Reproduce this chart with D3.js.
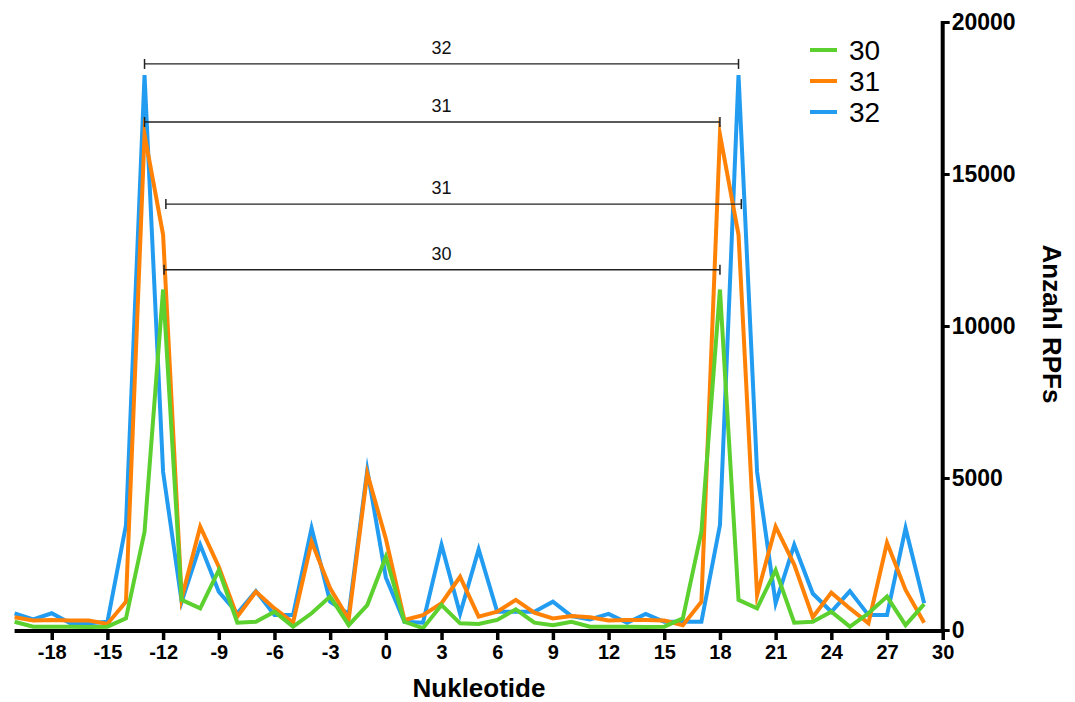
<!DOCTYPE html>
<html>
<head>
<meta charset="utf-8">
<script src="https://cdn.jsdelivr.net/npm/d3@7"></script>
<style>
  html, body { margin: 0; padding: 0; background: #fff; }
  svg { display: block; font-family: Arial, "Liberation Sans", Helvetica, sans-serif; }
</style>
</head>
<body>
<svg id="chart" width="1075" height="702"></svg>
<script>
// Nucleotide positions (x) and read counts per read length
const positions = d3.range(-20, 30);
const series30 = [270, 110, 110, 110, 100, 110, 380, 3230, 11200, 990,
                  710, 1970, 240, 270, 600, 110, 550, 1100, 160, 820,
                  2410, 270, 60, 820, 220, 200, 330, 680, 240, 160,
                  270, 110, 110, 110, 100, 110, 380, 3230, 11200, 990,
                  710, 1970, 240, 270, 600, 110, 550, 1100, 160, 850];
const series31 = [420, 310, 330, 310, 310, 200, 930, 16300, 13000, 1050,
                  3400, 2080, 440, 1260, 710, 240, 2900, 1370, 350, 5150,
                  3000, 330, 490, 880, 1750, 440, 600, 990, 570, 380,
                  460, 420, 310, 330, 330, 310, 160, 930, 16300, 13000,
                  1150, 3400, 2150, 420, 1230, 710, 220, 2870, 1320, 240];
const series32 = [550, 350, 550, 220, 220, 270, 3450, 18250, 5200, 930,
                  2800, 1260, 550, 1280, 490, 490, 3350, 930, 530, 5260,
                  1730, 270, 240, 2800, 530, 2650, 600, 600, 600, 930,
                  460, 350, 530, 240, 530, 270, 270, 270, 3450, 18250,
                  5200, 880, 2800, 1200, 600, 1280, 490, 490, 3350, 880];

const seriesNames = ["30", "31", "32"];
const seriesColors = ["#5bd02f", "#ff8206", "#229cf0"];

const xTicks = [-18, -15, -12, -9, -6, -3, 0, 3, 6, 9, 12, 15, 18, 21, 24, 27, 30];
const yTicks = [0, 5000, 10000, 15000, 20000];

// Distance brackets between the two peaks
const bracketLabels = ["32", "31", "31", "30"];
const bracketFrom   = [-13, -13, -11.85, -11.95];
const bracketTo     = [19, 18, 19.15, 18];
const bracketLevel  = [18620, 16710, 14010, 11850];
const bracketLabelX = [3, 3, 3, 3];

const svg = d3.select("#chart");

const x = d3.scaleLinear().domain([-20, 30]).range([14.6, 942.7]);
const y = d3.scaleLinear().domain([0, 20000]).range([630, 22]);

// Lines (blue first, green on top)
const line = d3.line().x((d, i) => x(positions[i])).y(d => y(d));
const allSeries = [series30, series31, series32];
[2, 1, 0].forEach(k => {
  svg.append("path")
    .datum(allSeries[k])
    .attr("d", line)
    .attr("fill", "none")
    .attr("stroke", seriesColors[k])
    .attr("stroke-width", 4)
    .attr("stroke-linejoin", "miter")
    .attr("stroke-miterlimit", 10);
});

// Brackets
const br = svg.append("g").attr("class", "brackets");
bracketLabels.forEach((lab, i) => {
  const yy = y(bracketLevel[i]);
  const x0 = x(bracketFrom[i]), x1 = x(bracketTo[i]);
  br.append("line").attr("x1", x0).attr("x2", x1).attr("y1", yy).attr("y2", yy)
    .attr("stroke", "#222").attr("stroke-width", 1.3);
  [x0, x1].forEach(xx => br.append("line")
    .attr("x1", xx).attr("x2", xx).attr("y1", yy - 5).attr("y2", yy + 5)
    .attr("stroke", "#222").attr("stroke-width", 1.5));
  br.append("text").attr("x", x(bracketLabelX[i])).attr("y", yy - 10)
    .attr("text-anchor", "middle").attr("font-size", 18).attr("fill", "#111")
    .text(lab);
});

// X axis (plain hyphen for negative labels)
const xAxis = svg.append("g").attr("transform", "translate(0,631)")
  .call(d3.axisBottom(x).tickValues(xTicks).tickFormat(d => String(d))
    .tickSize(9).tickPadding(5).tickSizeOuter(0));
xAxis.select(".domain").attr("stroke", "#000").attr("stroke-width", 4)
  .attr("d", `M${x(-20)},0H${x(30) + 2}`);
xAxis.selectAll(".tick line").attr("stroke", "#000").attr("stroke-width", 3.5);
xAxis.selectAll(".tick text").attr("font-size", 20).attr("font-weight", "bold")
  .attr("fill", "#000").attr("font-family", "Arial, 'Liberation Sans', sans-serif");

// Y axis on the right
const yAxis = svg.append("g").attr("transform", `translate(${x(30)},0)`)
  .call(d3.axisRight(y).tickValues(yTicks).tickFormat(d => String(d))
    .tickSize(7).tickPadding(2).tickSizeOuter(0));
yAxis.select(".domain").attr("stroke", "#000").attr("stroke-width", 4)
  .attr("d", `M0,${y(20000) - 1}V${y(0) + 3}`);
yAxis.selectAll(".tick line").attr("stroke", "#000").attr("stroke-width", 3);
yAxis.selectAll(".tick text").attr("font-size", 23).attr("font-weight", "bold")
  .attr("fill", "#000").attr("font-family", "Arial, 'Liberation Sans', sans-serif");

// Axis titles
svg.append("text").attr("x", 479).attr("y", 697).attr("text-anchor", "middle")
  .attr("font-size", 26).attr("font-weight", "bold").attr("fill", "#000")
  .text("Nukleotide");
svg.append("text").attr("transform", "translate(1043,324) rotate(90)")
  .attr("text-anchor", "middle").attr("font-size", 26).attr("font-weight", "bold").attr("fill", "#000")
  .text("Anzahl RPFs");

// Legend
const legend = svg.append("g").attr("class", "legend");
seriesNames.forEach((name, i) => {
  const ly = 50 + i * 31;
  legend.append("line").attr("x1", 810).attr("x2", 837).attr("y1", ly).attr("y2", ly)
    .attr("stroke", seriesColors[i]).attr("stroke-width", 4);
  legend.append("text").attr("x", 849).attr("y", ly + 10).attr("font-size", 28)
    .attr("fill", "#000").text(name);
});
</script>
</body>
</html>
